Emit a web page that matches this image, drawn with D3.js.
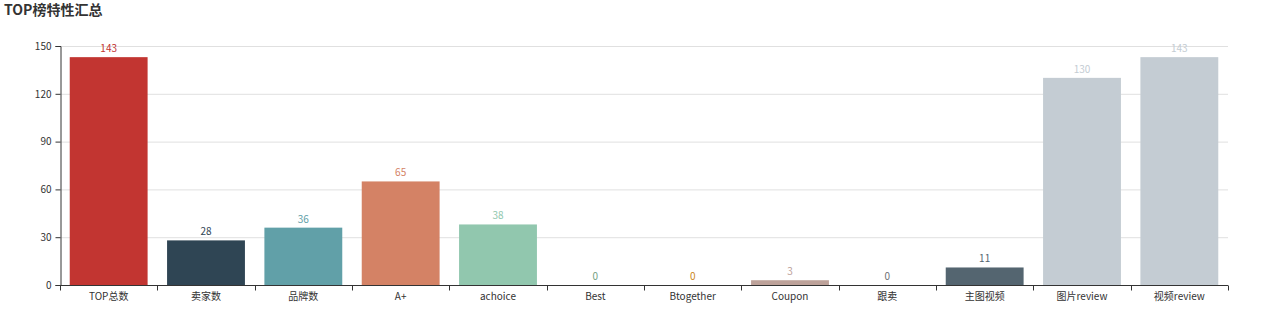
<!DOCTYPE html>
<html><head><meta charset="utf-8">
<script src="https://cdn.jsdelivr.net/npm/d3@7"></script>
<style>body{margin:0;background:#fff;font-family:"Noto Sans CJK SC","Noto Sans",sans-serif;}</style>
</head><body>
<svg id="c" width="1280" height="309"></svg>
<script>
const categories = ["TOP总数","卖家数","品牌数","A+","achoice","Best","Btogether","Coupon","跟卖","主图视频","图片review","视频review"];
const values = [143,28,36,65,38,0,0,3,0,11,130,143];
const colors = ['#c23531','#2f4554','#61a0a8','#d48265','#91c7ae','#749f83','#ca8622','#bda29a','#6e7074','#546570','#c4ccd3','#c4ccd3'];
const yTicks = [0,30,60,90,120,150];
const title = "TOP榜特性汇总";

(function(){
const svg = d3.select("#c");
const mLeft = 60, mRight = 1228, mTop = 46, mBottom = 285;
const x = d3.scaleBand().domain(categories).range([mLeft, mRight]).paddingInner(0.2).paddingOuter(0.1);
const xb = d3.scaleBand().domain(categories).range([mLeft, mRight]);
const y = d3.scaleLinear().domain([0,150]).range([mBottom, mTop]);

svg.append("text").attr("x",4).attr("y",15).attr("font-size",14).attr("font-weight","bold").attr("fill","#333").text(title);

// grid
svg.append("g").selectAll("line").data(yTicks.filter(d=>d>0)).join("line")
  .attr("x1",mLeft).attr("x2",mRight).attr("y1",d=>y(d)+0.5).attr("y2",d=>y(d)+0.5)
  .attr("stroke","#e0e0e0");

// y axis
const ya = svg.append("g").attr("transform",`translate(${mLeft+0.5},0)`)
  .call(d3.axisLeft(y).tickValues(yTicks).tickSize(5).tickPadding(4));
ya.selectAll("path, line").attr("stroke","#333");
ya.selectAll("text").attr("fill","#333").attr("font-size",10).attr("font-family","'Noto Sans CJK SC',sans-serif");

// bars
svg.append("g").selectAll("rect").data(categories).join("rect")
  .attr("x",(d)=>x(d)).attr("width",x.bandwidth())
  .attr("y",(d,i)=>y(values[i])).attr("height",(d,i)=>y(0)-y(values[i]))
  .attr("fill",(d,i)=>colors[i]);

// value labels
svg.append("g").selectAll("text").data(categories).join("text")
  .attr("x",d=>x(d)+x.bandwidth()/2).attr("y",(d,i)=>y(values[i])-5)
  .attr("text-anchor","middle").attr("font-size",10).attr("fill",(d,i)=>colors[i])
  .text((d,i)=>values[i]);

// x axis
const xa = svg.append("g").attr("transform",`translate(0,${mBottom+0.5})`);
xa.append("line").attr("x1",mLeft).attr("x2",mRight).attr("stroke","#333");
const bounds = categories.map(d=>xb(d)).concat([mRight]);
xa.selectAll("line.t").data(bounds).join("line").attr("class","t")
  .attr("x1",d=>Math.round(d)+0.5).attr("x2",d=>Math.round(d)+0.5).attr("y1",0).attr("y2",5).attr("stroke","#333");
xa.selectAll("text").data(categories).join("text")
  .attr("x",d=>xb(d)+xb.bandwidth()/2).attr("y",14)
  .attr("text-anchor","middle").attr("font-size",10).attr("fill","#333").text(d=>d);
})();
</script>
</body></html>
